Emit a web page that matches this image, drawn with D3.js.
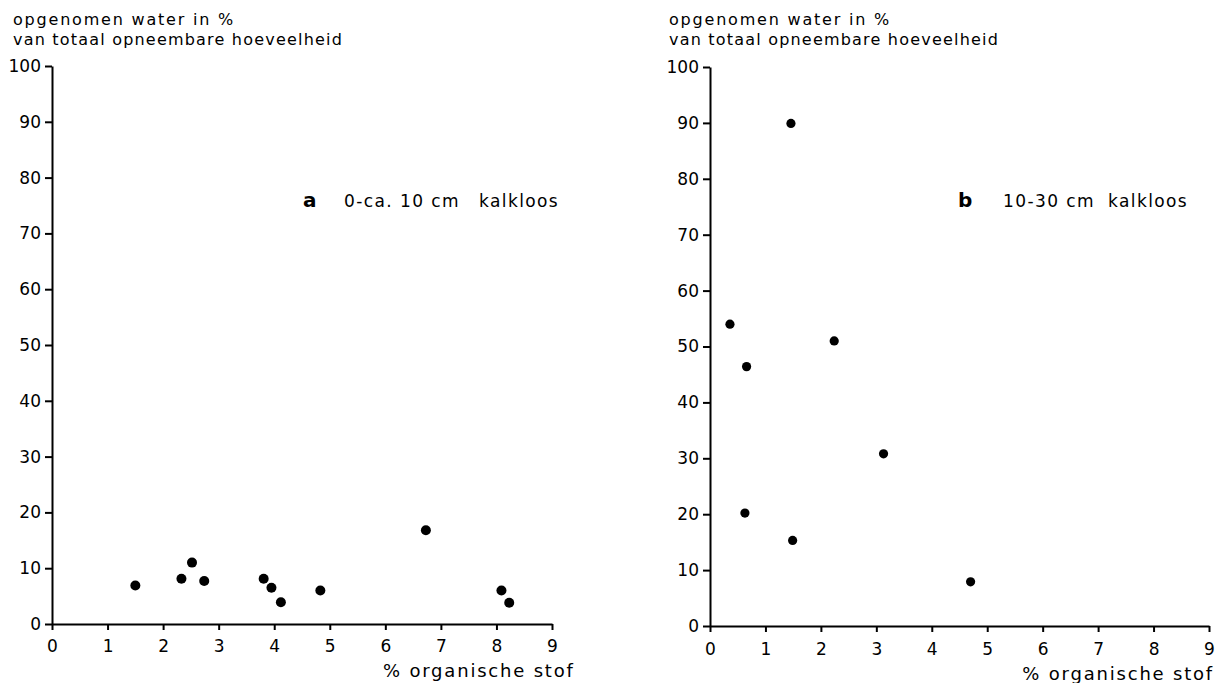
<!DOCTYPE html>
<html>
<head>
<meta charset="utf-8">
<script src="https://cdn.jsdelivr.net/npm/d3@7"></script>
<style>
  body { margin: 0; background: #fff; }
  svg { display: block; font-family: "DejaVu Sans", sans-serif; }
  .axis path, .axis line { stroke: #000; stroke-width: 2; }
  .axis text { font-family: "DejaVu Sans", sans-serif; font-size: 17px; fill: #000; }
</style>
</head>
<body>
<svg id="chart" width="1216" height="683"></svg>
<script>
// tick values
const xTicks = [0, 1, 2, 3, 4, 5, 6, 7, 8, 9]
const yTicks = [0, 10, 20, 30, 40, 50, 60, 70, 80, 90, 100]

// panel a: 0-ca. 10 cm kalkloos
const orgA = [1.5, 2.33, 2.52, 2.74, 3.81, 3.95, 4.12, 4.83, 6.73, 8.09, 8.23]
const waterA = [6.9, 8.1, 11.0, 7.7, 8.1, 6.5, 3.9, 6.0, 16.8, 6.0, 3.8]

// panel b: 10-30 cm kalkloos
const orgB = [0.36, 0.63, 0.66, 1.46, 1.49, 2.24, 3.13, 4.70]
const waterB = [54.0, 20.2, 46.4, 89.9, 15.3, 51.0, 30.8, 7.9]

const yTitle1 = 'opgenomen water in %'
const yTitle2 = 'van totaal opneembare hoeveelheid'
const xTitle = '% organische stof'

const svg = d3.select('#chart')

function drawPanel(p, xs, ys) {
    let x = d3.scaleLinear().domain([0, 9]).range([p.left, p.right])
    let y = d3.scaleLinear().domain([0, 100]).range([p.bottom, p.top])

    svg.append('g')
        .attr('class', 'axis')
        .attr('transform', `translate(0,${p.bottom})`)
        .call(d3.axisBottom(x).tickValues(xTicks).tickSize(6).tickSizeOuter(0).tickPadding(p.xPad))

    svg.append('g')
        .attr('class', 'axis')
        .attr('transform', `translate(${p.left},0)`)
        .call(d3.axisLeft(y).tickValues(yTicks).tickSize(7).tickSizeOuter(0).tickPadding(4))

    svg.append('g').selectAll('circle')
        .data(xs.map((d, i) => [d, ys[i]]))
        .enter()
        .append('circle')
        .attr('cx', d => x(d[0]))
        .attr('cy', d => y(d[1]))
        .attr('r', p.r)
        .style('fill', '#000')

    // axis titles, two lines above the y axis
    svg.append('text')
        .attr('x', p.titleX)
        .attr('y', 25)
        .attr('font-size', '16px')
        .attr('letter-spacing', '1.8px')
        .text(yTitle1)
    svg.append('text')
        .attr('x', p.titleX)
        .attr('y', 45)
        .attr('font-size', '16px')
        .attr('letter-spacing', '1.2px')
        .text(yTitle2)

    svg.append('text')
        .attr('x', p.xTitleX)
        .attr('y', p.xTitleY)
        .attr('text-anchor', p.xTitleAnchor)
        .attr('font-size', '18px')
        .attr('letter-spacing', '1.8px')
        .text(xTitle)

    // panel annotation
    svg.append('text')
        .attr('x', p.letterX)
        .attr('y', 207)
        .attr('font-size', '20px')
        .attr('font-weight', 'bold')
        .text(p.letter)
    svg.append('text')
        .attr('x', p.depthX)
        .attr('y', 207)
        .attr('font-size', '17px')
        .attr('letter-spacing', '1.4px')
        .text(p.depth)
    svg.append('text')
        .attr('x', p.kalkX)
        .attr('y', 207)
        .attr('font-size', '17px')
        .attr('letter-spacing', '1.4px')
        .text('kalkloos')
}

drawPanel({
    left: 52, right: 552, top: 66, bottom: 624, r: 5, xPad: 10,
    titleX: 13, xTitleX: 383, xTitleY: 677, xTitleAnchor: 'start',
    letter: 'a', letterX: 303, depth: '0-ca. 10 cm', depthX: 344, kalkX: 479
}, orgA, waterA)

drawPanel({
    left: 710, right: 1209, top: 67, bottom: 626, r: 4.6, xPad: 11,
    titleX: 669, xTitleX: 1214, xTitleY: 680, xTitleAnchor: 'end',
    letter: 'b', letterX: 958, depth: '10-30 cm', depthX: 1003, kalkX: 1108
}, orgB, waterB)
</script>
</body>
</html>
